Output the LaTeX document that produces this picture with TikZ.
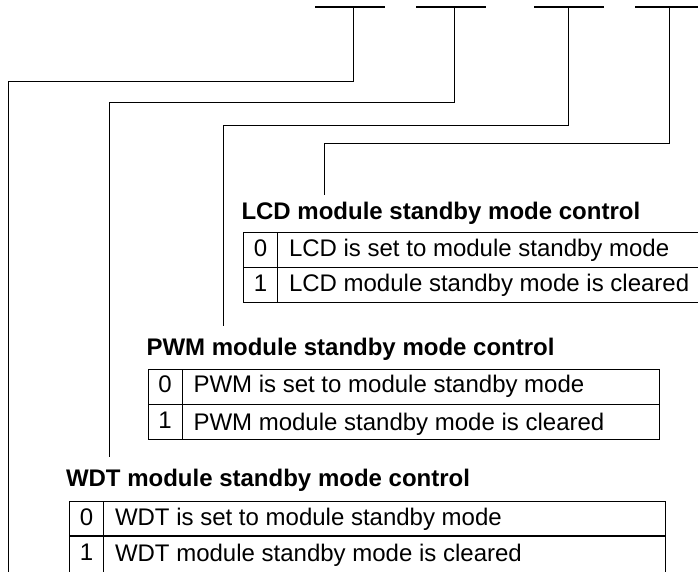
\documentclass[tikz,border=0pt]{standalone}
\usepackage{fontspec}
\setmainfont{Liberation Sans}
\begin{document}
\begin{tikzpicture}[x=1pt,y=-1pt,
  every node/.style={inner sep=0pt, outer sep=0pt},
  wire/.style={line width=1pt, black},
  bar/.style={line width=1.4pt, black},
  ttl/.style={anchor=base west, font=\fontsize{24}{28}\selectfont\bfseries},
  txt/.style={anchor=base west, font=\fontsize{24}{28}\selectfont},
  num/.style={anchor=base, font=\fontsize{24}{28}\selectfont},
  cell/.style={draw, line width=1pt, anchor=north west, minimum height=35pt}]
\useasboundingbox (0,0) rectangle (698,571);
\clip (0,0) rectangle (698,571);

% bit bars
\coordinate (b1l) at (315,7); \coordinate (b1r) at (385,7);
\coordinate (b2l) at (416,7); \coordinate (b2r) at (486,7);
\coordinate (b3l) at (534,7); \coordinate (b3r) at (604,7);
\coordinate (b4l) at (635,7); \coordinate (b4r) at (705,7);
\draw[bar] (b1l) -- (b1r);
\draw[bar] (b2l) -- (b2r);
\draw[bar] (b3l) -- (b3r);
\draw[bar] (b4l) -- (b4r);

% taps on the bars
\coordinate (t1) at (353,7);
\coordinate (t2) at (454,7);
\coordinate (t3) at (568,7);
\coordinate (t4) at (669,7);

% titles
\node[ttl] (lcdt) at (241.5,219) {LCD module standby mode control};
\node[ttl] (pwmt) at (146.5,355) {PWM module standby mode control};
\node[ttl] (wdtt) at (66,486) {WDT module standby mode control};

% LCD table
\node[cell, minimum width=34pt] (l0n) at (243.5,232) {};
\node[cell, minimum width=480pt] (l0t) at (277.5,232) {};
\node[cell, minimum width=34pt] (l1n) at (243.5,267) {};
\node[cell, minimum width=480pt] (l1t) at (277.5,267) {};
\node[num] at (260.5,256.5) {0};
\node[txt] at (289,256.5) {LCD is set to module standby mode};
\node[num] at (260.5,291.5) {1};
\node[txt] at (289,291.5) {LCD module standby mode is cleared};

% PWM table
\node[cell, minimum width=34pt] (p0n) at (148,369) {};
\node[cell, minimum width=477pt] (p0t) at (182,369) {};
\node[cell, minimum width=34pt] (p1n) at (148,404) {};
\node[cell, minimum width=477pt] (p1t) at (182,404) {};
\node[num] at (165,392.5) {0};
\node[txt] at (193.5,392.5) {PWM is set to module standby mode};
\node[num] at (165,428) {1};
\node[txt] at (193.5,430) {PWM module standby mode is cleared};

% WDT table
\node[cell, minimum width=34.5pt] (w0n) at (69,501) {};
\node[cell, minimum width=561.5pt] (w0t) at (103.5,501) {};
\node[cell, minimum width=34.5pt, minimum height=42pt] (w1n) at (69,535) {};
\node[cell, minimum width=561.5pt, minimum height=42pt] (w1t) at (103.5,535) {};
\node[num] at (86.5,525.5) {0};
\node[txt] at (115,525.5) {WDT is set to module standby mode};
\node[num] at (86.5,560) {1};
\node[txt] at (115,561) {WDT module standby mode is cleared};

% connector ends
\coordinate (e1) at (8.5,580);
\coordinate (e2) at (109,457);
\coordinate (e3) at (223,326);
\coordinate (e4) at (324,195);

\draw[wire] (t1) |- (e1 |- 0,81) -- (e1);
\draw[wire] (t2) |- (e2 |- 0,102) -- (e2);
\draw[wire] (t3) |- (e3 |- 0,125) -- (e3);
\draw[wire] (t4) |- (e4 |- 0,143) -- (e4);
\end{tikzpicture}
\end{document}
